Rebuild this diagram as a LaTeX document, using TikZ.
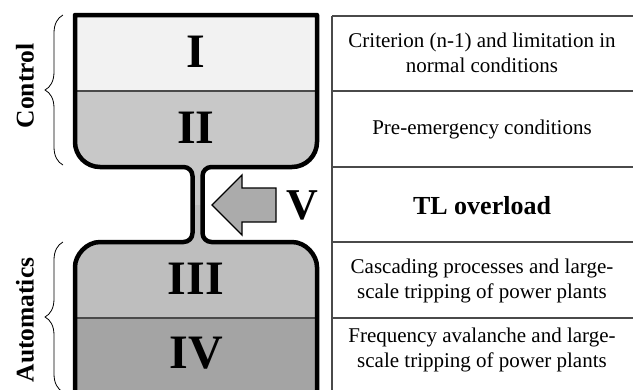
\documentclass[tikz,border=0pt]{standalone}
\usepackage{fontspec}
\setmainfont{Liberation Serif}
\usetikzlibrary{decorations.pathreplacing,positioning}
\definecolor{zoneone}{HTML}{F2F2F2}
\definecolor{zonetwo}{HTML}{C8C8C8}
\definecolor{zonethree}{HTML}{BEBEBE}
\definecolor{zonefour}{HTML}{A4A4A4}
\definecolor{pushfill}{HTML}{ABABAB}
\definecolor{rule}{HTML}{4A4A4A}
% outline of the two vessels joined by the neck (pixel units, y downwards)
\newcommand{\vesselpath}{(75,15) -- (317,15) -- (317,142)
  .. controls (317,155.8) and (305.8,167) .. (292,167) -- (211.5,167)
  .. controls (206.5,167) and (202.5,171) .. (202.5,176) -- (202.5,233)
  .. controls (202.5,238) and (206.5,242) .. (211.5,242) -- (292,242)
  .. controls (305.8,242) and (317,255.2) .. (317,267) -- (317,400)
  -- (75,400) -- (75,267)
  .. controls (75,255.2) and (86.2,242) .. (100,242) -- (183.5,242)
  .. controls (188.5,242) and (192.5,238) .. (192.5,233) -- (192.5,176)
  .. controls (192.5,171) and (188.5,167) .. (183.5,167) -- (100,167)
  .. controls (86.2,167) and (75,155.8) .. (75,142) -- cycle}

\begin{document}
\begin{tikzpicture}[x=1pt, y=-1pt,
  numeral/.style={font=\fontsize{48}{48}\selectfont\bfseries, inner sep=0pt},
  cell/.style={font=\fontsize{21}{25}\selectfont, align=center, inner sep=0pt},
  side/.style={font=\fontsize{25.5}{25.5}\selectfont\bfseries, rotate=90, inner sep=0pt},
  grp/.style={decorate, decoration={brace, amplitude=18pt}, line width=0.8pt},
  tab/.style={draw=rule, line width=1.2pt}
]
\useasboundingbox (0,0) rectangle (633,389);
\clip (0,0) rectangle (633,389);

% Vessel zones
\begin{scope}
  \clip \vesselpath;
  \fill[zoneone]   (0,0)   rectangle (633,91);
  \fill[zonetwo]   (0,91)  rectangle (633,205);
  \fill[zonethree] (0,205) rectangle (633,318);
  \fill[zonefour]  (0,318) rectangle (633,400);
  \draw[rule, line width=1.4pt] (0,91) -- (633,91) (0,318) -- (633,318);
\end{scope}
\draw[line width=4.5pt, line join=round] \vesselpath;

\node[numeral] (z1) at (196,52)  {I};
\node[numeral] (z2) at (196,128) {II};
\node[numeral] (z3) at (196,279) {III};
\node[numeral] (z4) at (196,353) {IV};

% Overload push
\draw[fill=pushfill, line width=1.3pt, line join=miter]
  (212,205) -- (242,175) -- (242,188) -- (276,188) -- (276,222)
  -- (242,222) -- (242,235) -- cycle;
\node[numeral, font=\fontsize{44}{44}\selectfont\bfseries] (z5) at (302,205) {V};

% Groups
\draw[grp] (63,165) -- (63,15);
\draw[grp] (63,392) -- (63,242);
\node[side] (ctrl) at (25,86)  {Control};
\node[side] (auto) at (25,320) {Automatics};

% Table
\draw[tab] (332,16) -- (332,400);
\foreach \y in {16,91,167,242,318}
  \draw[tab] (332,\y) -- (633,\y);

\node[cell] (r1) at (482,53)  {Criterion (n-1) and limitation in\\normal conditions};
\node[cell] (r2) at (482,129) {Pre-emergency conditions};
\node[cell, font=\fontsize{26}{26}\selectfont\bfseries] (r3) at (482,206) {TL overload};
\node[cell] (r4) at (482,281) {Cascading processes and large-\\scale tripping of power plants};
\node[cell] (r5) at (482,350) {Frequency avalanche and large-\\scale tripping of power plants};
\end{tikzpicture}
\end{document}
